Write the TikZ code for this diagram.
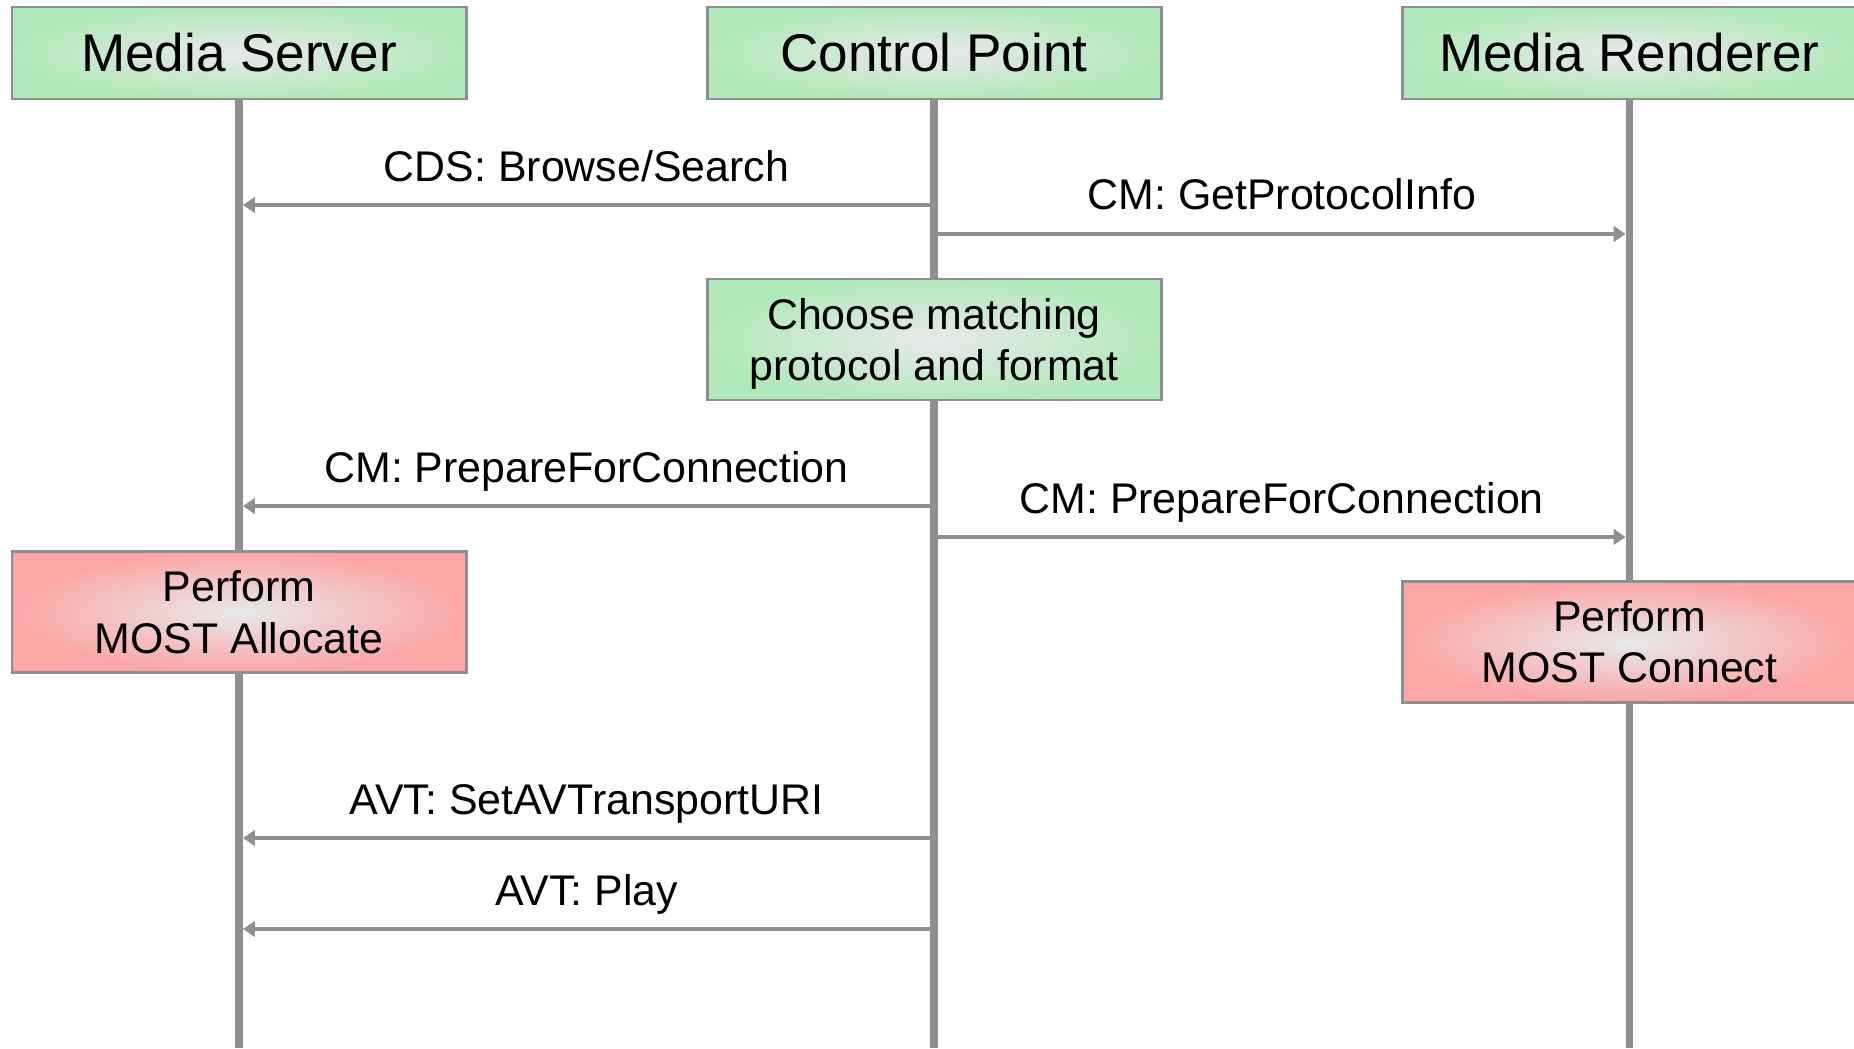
\documentclass[tikz,border=0pt]{standalone}
\usepackage{fontspec}
\setmainfont{Liberation Sans}
\usetikzlibrary{arrows.meta}
\usepackage{xcolor}

\definecolor{lifegray}{RGB}{142,143,146}
\definecolor{boxgreen}{RGB}{178,233,186}
\definecolor{boxred}{RGB}{252,166,166}
\definecolor{glowgray}{RGB}{232,233,234}

\tikzset{
 actor/.style={draw=lifegray, line width=0.85pt, minimum width=4.54cm, minimum height=0.92cm,
  inner color=glowgray, outer color=boxgreen, font=\fontsize{15.1}{18}\selectfont},
 note/.style={draw=lifegray, line width=0.85pt, minimum width=4.54cm, minimum height=1.21cm,
  align=center, text depth=0pt, inner color=glowgray, font=\fontsize{12.2}{14.6}\selectfont},
 lifeline/.style={lifegray, line width=2.2pt},
 msg/.style={lifegray, line width=1.1pt, ->, >={Triangle[length=3.4pt,width=4.3pt]},
  shorten >=1.1pt, shorten <=1.1pt},
 msglabel/.style={black, font=\fontsize{12.2}{14.6}\selectfont, anchor=base, inner sep=0pt, yshift=0.24cm}
}

\begin{document}
\begin{tikzpicture}
\useasboundingbox (0,0) rectangle (18.54,-10.48);
% lanes
\node[actor] (ms) at (2.39,-0.53) {Media Server};
\node[actor] (cp) at (9.34,-0.53) {Control Point};
\node[actor] (mr) at (16.295,-0.53) {Media Renderer};
\foreach \n in {ms,cp,mr}
 \draw[lifeline] (\n.south) -- (\n.south |- 0,-10.48);

% messages
\draw[msg] (cp.south |- 0,-2.05) -- (ms.south |- 0,-2.05) node[msglabel, midway] {CDS: Browse/Search};
\draw[msg] (cp.south |- 0,-2.34) -- (mr.south |- 0,-2.34) node[msglabel, midway] {CM: GetProtocolInfo};
\draw[msg] (cp.south |- 0,-5.06) -- (ms.south |- 0,-5.06) node[msglabel, midway] {CM: PrepareForConnection};
\draw[msg] (cp.south |- 0,-5.37) -- (mr.south |- 0,-5.37) node[msglabel, midway] {CM: PrepareForConnection};
\draw[msg] (cp.south |- 0,-8.38) -- (ms.south |- 0,-8.38) node[msglabel, midway] {AVT: SetAVTransportURI};
\draw[msg] (cp.south |- 0,-9.29) -- (ms.south |- 0,-9.29) node[msglabel, midway] {AVT: Play};

% actions
\node[note, outer color=boxgreen] (choose) at (9.34,-3.395) {Choose matching\\protocol and format};
\node[note, outer color=boxred] (alloc) at (2.39,-6.12) {Perform\\MOST Allocate};
\node[note, outer color=boxred] (conn) at (16.295,-6.415) {Perform\\MOST Connect};
\end{tikzpicture}
\end{document}
